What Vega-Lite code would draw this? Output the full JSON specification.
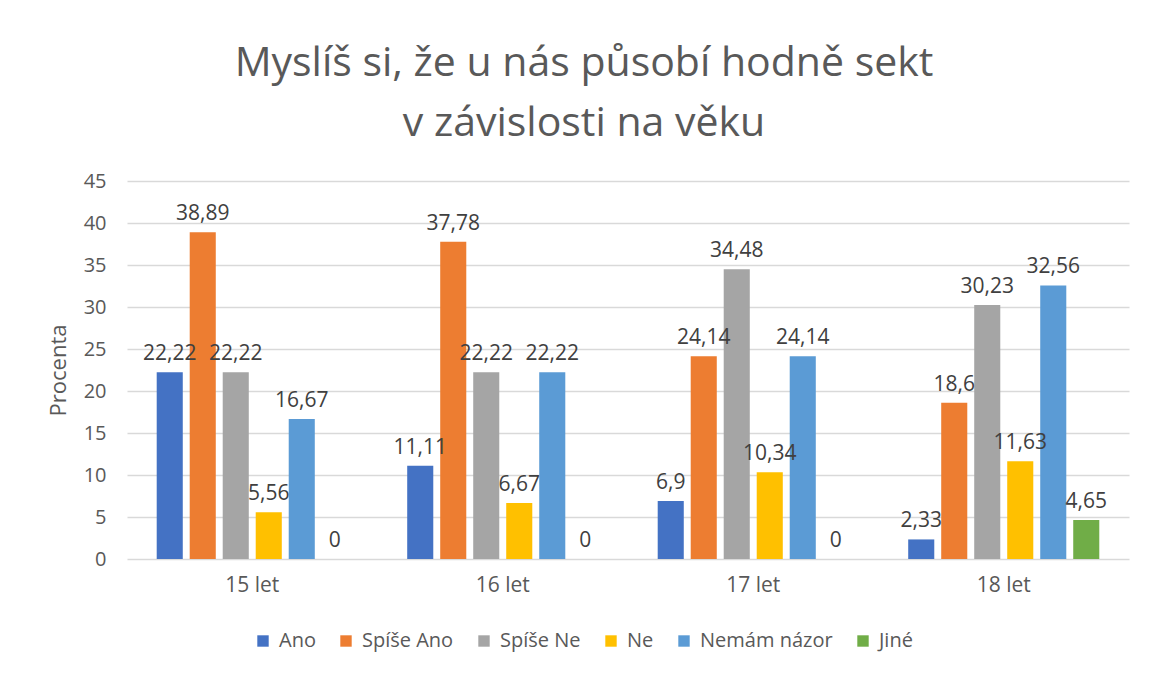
{
  "$schema": "https://vega.github.io/schema/vega-lite/v6.json",
  "width": 1002,
  "height": 378,
  "autosize": {"type": "none"},
  "padding": {"left": 127, "top": 181, "right": 28, "bottom": 116},
  "background": "white",
  "config": {
    "locale": {"number": {"decimal": ",", "thousands": " ", "grouping": [3], "currency": ["", " Kč"]}},
    "font": "Open Sans",
    "view": {"stroke": null}
  },
  "title": {
    "text": ["Myslíš si, že u nás působí hodně sekt", "v závislosti na věku"],
    "font": "Open Sans",
    "fontSize": 41,
    "fontWeight": "normal",
    "color": "#595959",
    "lineHeight": 60,
    "anchor": "middle",
    "dx": -44,
    "offset": 26
  },
  "data": {
    "values": [
      {"vek": "15 let", "odpoved": "Ano", "procenta": 22.22},
      {"vek": "15 let", "odpoved": "Spíše Ano", "procenta": 38.89},
      {"vek": "15 let", "odpoved": "Spíše Ne", "procenta": 22.22},
      {"vek": "15 let", "odpoved": "Ne", "procenta": 5.56},
      {"vek": "15 let", "odpoved": "Nemám názor", "procenta": 16.67},
      {"vek": "15 let", "odpoved": "Jiné", "procenta": 0},
      {"vek": "16 let", "odpoved": "Ano", "procenta": 11.11},
      {"vek": "16 let", "odpoved": "Spíše Ano", "procenta": 37.78},
      {"vek": "16 let", "odpoved": "Spíše Ne", "procenta": 22.22},
      {"vek": "16 let", "odpoved": "Ne", "procenta": 6.67},
      {"vek": "16 let", "odpoved": "Nemám názor", "procenta": 22.22},
      {"vek": "16 let", "odpoved": "Jiné", "procenta": 0},
      {"vek": "17 let", "odpoved": "Ano", "procenta": 6.9},
      {"vek": "17 let", "odpoved": "Spíše Ano", "procenta": 24.14},
      {"vek": "17 let", "odpoved": "Spíše Ne", "procenta": 34.48},
      {"vek": "17 let", "odpoved": "Ne", "procenta": 10.34},
      {"vek": "17 let", "odpoved": "Nemám názor", "procenta": 24.14},
      {"vek": "17 let", "odpoved": "Jiné", "procenta": 0},
      {"vek": "18 let", "odpoved": "Ano", "procenta": 2.33},
      {"vek": "18 let", "odpoved": "Spíše Ano", "procenta": 18.6},
      {"vek": "18 let", "odpoved": "Spíše Ne", "procenta": 30.23},
      {"vek": "18 let", "odpoved": "Ne", "procenta": 11.63},
      {"vek": "18 let", "odpoved": "Nemám názor", "procenta": 32.56},
      {"vek": "18 let", "odpoved": "Jiné", "procenta": 4.65}
    ]
  },
  "encoding": {
    "x": {
      "field": "vek",
      "type": "nominal",
      "scale": {"paddingInner": 0, "paddingOuter": 0},
      "axis": {
        "title": null,
        "labelAngle": 0,
        "labelFontSize": 21,
        "labelColor": "#595959",
        "labelPadding": 15,
        "ticks": false,
        "domain": false,
        "grid": false
      }
    },
    "xOffset": {
      "field": "odpoved",
      "type": "nominal",
      "sort": ["Ano", "Spíše Ano", "Spíše Ne", "Ne", "Nemám názor", "Jiné"],
      "scale": {"paddingInner": 0.21, "paddingOuter": 0.9}
    },
    "y": {
      "field": "procenta",
      "type": "quantitative",
      "scale": {"domain": [0, 45], "nice": false},
      "axis": {
        "title": "Procenta",
        "titleFontSize": 22,
        "titleFontWeight": "normal",
        "titleColor": "#595959",
        "titlePadding": 13,
        "values": [0, 5, 10, 15, 20, 25, 30, 35, 40, 45],
        "labelFontSize": 20,
        "labelColor": "#595959",
        "labelPadding": 21,
        "ticks": false,
        "domain": false,
        "gridColor": "#D9D9D9",
        "gridWidth": 1.5
      }
    }
  },
  "layer": [
    {
      "mark": {"type": "bar"},
      "encoding": {
        "color": {
          "field": "odpoved",
          "type": "nominal",
          "sort": ["Ano", "Spíše Ano", "Spíše Ne", "Ne", "Nemám názor", "Jiné"],
          "scale": {
            "domain": ["Ano", "Spíše Ano", "Spíše Ne", "Ne", "Nemám názor", "Jiné"],
            "range": ["#4472C4", "#ED7D31", "#A5A5A5", "#FFC000", "#5B9BD5", "#70AD47"]
          },
          "legend": {
            "title": null,
            "orient": "none",
            "direction": "horizontal",
            "legendX": 126,
            "legendY": 450,
            "symbolType": "square",
            "symbolSize": 130,
            "symbolStrokeWidth": 0,
            "labelFontSize": 20,
            "labelColor": "#595959",
            "columnPadding": 20,
            "labelOffset": 6
          }
        }
      }
    },
    {
      "mark": {"type": "text", "baseline": "bottom", "dy": -8, "fontSize": 21, "color": "#404040"},
      "encoding": {
        "text": {"field": "procenta", "type": "quantitative", "format": ".4~r"}
      }
    }
  ]
}
